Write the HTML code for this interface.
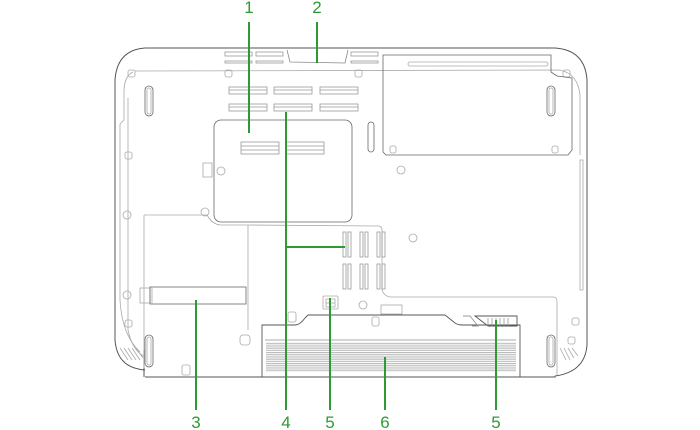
<!DOCTYPE html>
<html><head><style>
html,body{margin:0;padding:0;background:#fff;}
svg{display:block;}
text{font-family:"Liberation Sans",sans-serif;font-size:17px;fill:#2e9a36;}
</style></head><body>
<svg width="700" height="430" viewBox="0 0 700 430" xmlns="http://www.w3.org/2000/svg">
<defs>
<pattern id="vent" width="4" height="2.2" patternUnits="userSpaceOnUse">
<rect width="4" height="1.1" fill="#b8b8b8"/>
</pattern>
</defs>
<g fill="none" stroke="#555" stroke-width="1">
<path d="M145,48 L555,48 Q585,50 587,80 L587,345 Q585,372 555,376 M145,377 L555,377 L555,376 M145,48 Q117,50 115,80 L115,340 Q117,368 145,370"/>
<line x1="144" y1="350" x2="144" y2="377"/>
</g>
<g fill="none" stroke="#aaa" stroke-width="0.8">
<path d="M135,71 L560,70 Q578,74 580,95 L580,155"/>
<path d="M133,72 Q124,76 124,92 L124,120 L120,124 L120,300 Q122,335 140,352"/>
<path d="M128,98 L128,330 Q132,350 145,357"/>
<path d="M583,160 L583,290 L580,290 L580,160 Z"/>
<rect x="128" y="70" width="7" height="7" rx="2"/>
<rect x="225" y="70" width="7" height="7" rx="2"/>
<rect x="355" y="70" width="7" height="7" rx="2"/>
<rect x="563" y="70" width="7" height="7" rx="2"/>
<rect x="125" y="152" width="7" height="7" rx="2"/>
<rect x="125" y="320" width="7" height="7" rx="2"/>
<rect x="182" y="365" width="8" height="10" rx="2"/>
<rect x="572" y="318" width="7" height="7" rx="2"/>
<rect x="568" y="337" width="7" height="7" rx="2"/>
<rect x="372" y="317" width="7" height="9" rx="2"/>
<circle cx="127" cy="215" r="4"/>
<circle cx="127" cy="295" r="4"/>
<circle cx="205" cy="212" r="4"/>
<circle cx="221" cy="171" r="4"/>
<circle cx="401" cy="170" r="4"/>
<circle cx="413" cy="238" r="4"/>
<circle cx="363" cy="305" r="4"/>
<rect x="203" y="163" width="9" height="14"/>
<g stroke="#999">
<rect x="225" y="52" width="27" height="4"/><rect x="256" y="52" width="27" height="4"/><rect x="351" y="52" width="27" height="4"/>
<rect x="225" y="61" width="27" height="2"/><rect x="256" y="61" width="27" height="2"/><rect x="351" y="61" width="27" height="2"/>
<rect x="229" y="87" width="38" height="7"/><rect x="274" y="87" width="38" height="7"/><rect x="320" y="87" width="38" height="7"/>
<rect x="229" y="104" width="38" height="7"/><rect x="274" y="104" width="38" height="7"/><rect x="320" y="104" width="38" height="7"/>
<rect x="241" y="142" width="38" height="12"/><rect x="286" y="142" width="38" height="12"/>
<line x1="229" y1="90" x2="267" y2="90"/><line x1="274" y1="90" x2="312" y2="90"/><line x1="320" y1="90" x2="358" y2="90"/>
<line x1="229" y1="107" x2="267" y2="107"/><line x1="274" y1="107" x2="312" y2="107"/><line x1="320" y1="107" x2="358" y2="107"/>
<line x1="241" y1="146" x2="279" y2="146"/><line x1="286" y1="146" x2="324" y2="146"/>
<line x1="241" y1="150" x2="279" y2="150"/><line x1="286" y1="150" x2="324" y2="150"/>
</g>
<path d="M287,50 L290,62 L345,63 L348,50" stroke="#888"/>
<rect x="214" y="120" width="138" height="102" rx="7" stroke="#666"/>
<path d="M383,55 L551,55 L551,72 L557,76 L572,78 L572,150 L568,155 L386,155 L383,152 Z" stroke="#666"/>
<rect x="408" y="62" width="140" height="4" rx="2"/>
<rect x="390" y="146" width="6" height="7" rx="2"/>
<rect x="552" y="146" width="6" height="7" rx="2"/>
<rect x="145" y="86" width="8" height="30" rx="4" stroke="#666"/>
<rect x="147" y="88" width="4" height="26" rx="2"/>
<rect x="368" y="122" width="6" height="30" rx="3" stroke="#666"/>
<rect x="547" y="86" width="8" height="30" rx="4" stroke="#666"/>
<rect x="549" y="88" width="4" height="26" rx="2"/>
<rect x="145" y="335" width="8" height="32" rx="4" stroke="#666"/>
<rect x="147" y="337" width="4" height="28" rx="2"/>
<rect x="547" y="335" width="8" height="32" rx="4" stroke="#666"/>
<rect x="549" y="337" width="4" height="28" rx="2"/>
<path d="M120,348 L128,360 M124,348 L132,360 M128,348 L136,360 M132,348 L140,360 M136,348 L143,358" />
<path d="M560,348 L566,360 M564,348 L570,360 M568,348 L574,358 M572,348 L578,356"/>
<path d="M144,215 L207,215 Q212,224 220,225 L248,225 L248,330 M144,215 L144,368"/>
<path d="M248,225 L378,226 Q382,226 382,230 L382,290 Q384,296 390,297 L553,297 Q557,297 557,301 L557,375"/>
<rect x="140" y="288" width="10" height="15"/>
<rect x="150" y="287" width="96" height="17" stroke="#666"/>
<line x1="152" y1="287" x2="152" y2="304"/>
<g stroke="#999">
<rect x="343" y="232" width="3" height="25"/><rect x="348" y="232" width="3" height="25"/>
<rect x="360" y="232" width="3" height="25"/><rect x="365" y="232" width="3" height="25"/>
<rect x="377" y="232" width="3" height="25"/><rect x="382" y="232" width="3" height="25"/>
<rect x="343" y="264" width="3" height="25"/><rect x="348" y="264" width="3" height="25"/>
<rect x="360" y="264" width="3" height="25"/><rect x="365" y="264" width="3" height="25"/>
<rect x="377" y="264" width="3" height="25"/><rect x="382" y="264" width="3" height="25"/>
</g>
<rect x="323" y="296" width="15" height="13" rx="1"/>
<rect x="326" y="299" width="9" height="8"/>
<line x1="326" y1="303" x2="335" y2="303"/>
<rect x="381" y="305" width="21" height="9"/>
<rect x="288" y="312" width="8" height="10" rx="2"/>
<rect x="240" y="335" width="10" height="10" rx="3"/>
</g>
<g fill="none" stroke="#555" stroke-width="0.9">
<path d="M262,377 L262,325 L295,325 Q300,325 305,318 L308,315 L445,315 L455,323 Q458,325 462,325 L520,325 L520,377"/>
<path d="M475,316 L517,316 L517,326 L488,326 Z"/>
<path d="M463,316 L470,316 L478,326 L472,326" stroke="#999"/>
<line x1="265" y1="340" x2="516" y2="340" stroke="#aaa"/>
</g>
<rect x="266" y="342" width="250" height="30" fill="url(#vent)"/>
<g stroke="#999" stroke-width="0.8">
<line x1="488" y1="318" x2="488" y2="326"/><line x1="492" y1="318" x2="492" y2="326"/><line x1="496" y1="318" x2="496" y2="326"/><line x1="500" y1="318" x2="500" y2="326"/><line x1="504" y1="318" x2="504" y2="326"/><line x1="508" y1="318" x2="508" y2="326"/>
</g>
<g stroke="#2e9a36" stroke-width="2" fill="none">
<line x1="249" y1="22" x2="249" y2="133"/>
<line x1="317" y1="22" x2="317" y2="63"/>
<line x1="196" y1="300" x2="196" y2="410"/>
<path d="M286,112 L286,410 M286,247 L345,247"/>
<line x1="330" y1="298" x2="330" y2="410"/>
<line x1="385" y1="357" x2="385" y2="410"/>
<line x1="496" y1="320" x2="496" y2="410"/>
</g>
<text x="249" y="13" text-anchor="middle">1</text>
<text x="317" y="13" text-anchor="middle">2</text>
<text x="196" y="428" text-anchor="middle">3</text>
<text x="286" y="428" text-anchor="middle">4</text>
<text x="330" y="428" text-anchor="middle">5</text>
<text x="385" y="428" text-anchor="middle">6</text>
<text x="496" y="428" text-anchor="middle">5</text>
</svg>
</body></html>
